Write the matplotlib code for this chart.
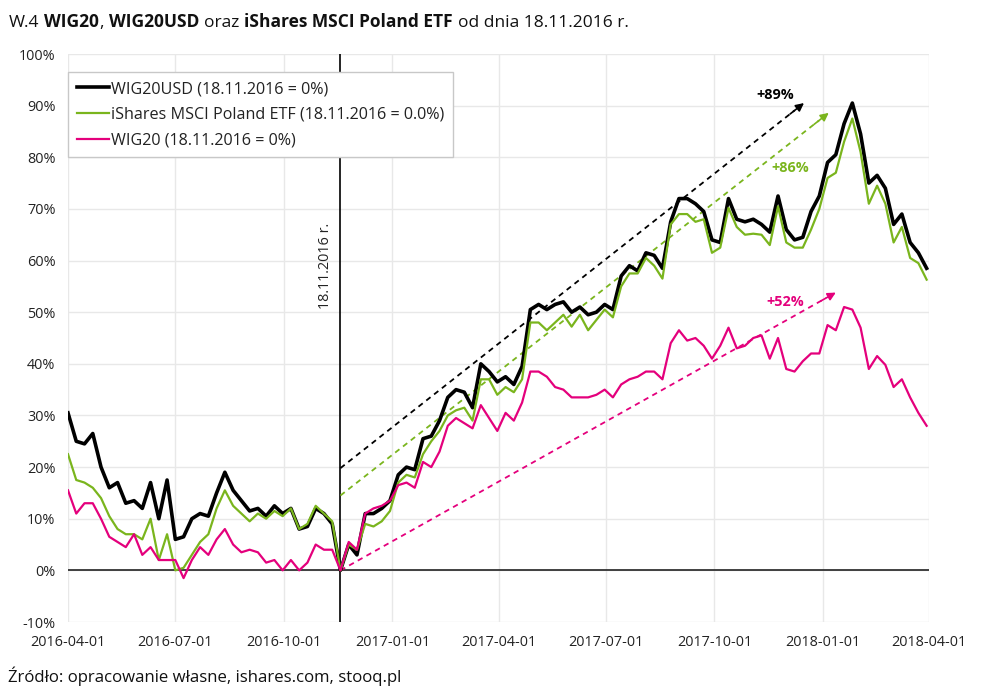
import matplotlib
matplotlib.use("Agg")
import matplotlib.pyplot as plt
import matplotlib.dates as mdates
from matplotlib.ticker import FuncFormatter, MultipleLocator
import pandas as pd

plt.rcParams["font.family"] = ["Open Sans", "DejaVu Sans"]

START = "2016-04-01"
BASE_DATE = "2016-11-18"

# weekly (Friday) readings, % change vs 18.11.2016
wig20usd = [
    30.5, 25, 24.5, 26.5, 20, 16, 17, 13, 13.5, 12, 17, 10, 17.5, 6, 6.5, 10, 11,
    10.5, 15, 19, 15.5, 13.5, 11.5, 12, 10.5, 12.5, 11, 12, 8, 8.5, 12, 11, 9,
    0, 5, 3, 11, 11, 12, 13.5, 18.5, 20, 19.5, 25.5, 26, 29, 33.5, 35, 34.5, 31.5,
    40, 38.5, 36.5, 37.5, 36, 39.5, 50.5, 51.5, 50.5, 51.5, 52, 50, 51, 49.5, 50,
    51.5, 50.5, 57, 59, 58, 61.5, 61, 58.5, 67.5, 72, 72, 71, 69.5, 64, 63.5, 72,
    68, 67.5, 68, 67, 65.5, 72.5, 66, 64, 64.5, 69.5, 72.5, 79, 80.5, 86.5, 90.5,
    84.5, 75, 76.5, 74, 67, 69, 63.5, 61.5, 58.5,
]
ishares = [
    22.5, 17.5, 17, 16, 14, 10.5, 8, 7, 7, 6, 10, 2, 7, 0, 0.5, 3, 5.5,
    7, 12, 15.5, 12.5, 11, 9.5, 11, 10, 11.5, 10.5, 12, 8, 9, 12.5, 11, 9.5,
    0, 5, 4, 9, 8.5, 9.5, 11.5, 17, 18.5, 18, 22.5, 25, 27, 30, 31, 31.5, 29,
    37, 37, 34, 35.5, 34.5, 37, 48, 48, 46.5, 48, 49.5, 47.2, 49.5, 46.5, 48.5,
    50.5, 49, 55, 57.5, 57.5, 60.5, 59, 56.5, 67, 69, 69, 67.5, 68, 61.5, 62.5, 70.2,
    66.5, 65, 65.2, 65, 63, 70.5, 63.5, 62.5, 62.5, 66, 70, 76, 77, 83, 87.5,
    81, 71, 74.5, 71, 63.5, 66.5, 60.5, 59.5, 56.3,
]
wig20 = [
    15.5, 11, 13, 13, 10, 6.5, 5.5, 4.5, 7, 3, 4.5, 2, 2, 2, -1.5, 2, 4.5,
    3, 6, 8, 5, 3.5, 4, 3.5, 1.5, 2, 0, 2, 0, 1.5, 5, 4, 4,
    0, 5.5, 4, 11, 12, 12.5, 13.5, 16.5, 17, 16, 21, 20, 23, 28, 29.5, 28.5, 27.5,
    32, 29.5, 27, 30.5, 29, 32.5, 38.5, 38.5, 37.5, 35.5, 35, 33.5, 33.5, 33.5, 34,
    35, 33.5, 36, 37, 37.5, 38.5, 38.5, 37, 44, 46.5, 44.5, 45, 43.5, 41, 43.5, 47,
    43, 43.5, 45, 45.5, 41, 45, 39, 38.5, 40.5, 42, 42, 47.5, 46.5, 51, 50.5,
    47, 39, 41.5, 39.8, 35.5, 37, 33.5, 30.5, 28,
]

series_values = [wig20usd, ishares, wig20]
series_labels = [
    "WIG20USD (18.11.2016 = 0%)",
    "iShares MSCI Poland ETF (18.11.2016 = 0.0%)",
    "WIG20 (18.11.2016 = 0%)",
]
series_colors = ["#000000", "#7ab51d", "#e4007c"]
series_widths = [2.6, 1.6, 1.6]

# dashed trend arrows drawn from 18.11.2016 to the peak
trend_labels = ["+89%", "+86%", "+52%"]
trend_start = [19.8, 14.5, 0.0]
trend_end_dates = ["2017-12-16", "2018-01-06", "2018-01-12"]
trend_end = [90.5, 88.6, 53.8]
trend_label_dates = ["2017-11-22", "2017-12-04", "2017-11-30"]
trend_label_values = [92.0, 78.0, 52.0]

title_parts = [
    ("W.4", "normal"), ("WIG20", "bold"), (",", "normal"), ("WIG20USD", "bold"),
    ("oraz", "normal"), ("iShares MSCI Poland ETF", "bold"),
    ("od dnia 18.11.2016 r.", "normal"),
]
title_gaps = [0, 3.5, 0, 3.5, 3.5, 3.5, 3.5]

x_ticks = pd.date_range("2016-04-01", "2018-04-01", freq="3MS")
dates = pd.date_range(START, periods=len(wig20usd), freq="7D")

fig = plt.figure(figsize=(9.85, 6.97), dpi=100)
ax = fig.add_axes([68 / 985, 1 - 622 / 697, (929 - 68) / 985, (622 - 54) / 697])

ax.set_xlim(pd.Timestamp("2016-04-01"), pd.Timestamp("2018-04-01"))
ax.set_ylim(-10, 100)
ax.yaxis.set_major_locator(MultipleLocator(10))
ax.yaxis.set_major_formatter(FuncFormatter(lambda v, _: f"{v:.0f}%"))
ax.set_xticks(x_ticks)
ax.xaxis.set_major_formatter(mdates.DateFormatter("%Y-%m-%d"))
ax.tick_params(axis="both", length=0, labelsize=10.4, colors="#222222")
ax.tick_params(axis="y", pad=9)
ax.tick_params(axis="x", pad=9)
for spine in ax.spines.values():
    spine.set_visible(False)
ax.grid(True, color="#e8e8e8", linewidth=1.0)
ax.set_axisbelow(True)

ax.axhline(0, color="#222222", linewidth=1.2, zorder=2)
base = pd.Timestamp(BASE_DATE)
ax.axvline(base, color="#000000", linewidth=1.2, zorder=2)
ax.text(base - pd.Timedelta(days=13), 59, "18.11.2016 r.", rotation=90,
        ha="center", va="center", fontsize=10.4, color="#222222")

for values, label, color, width in zip(series_values, series_labels,
                                       series_colors, series_widths):
    ax.plot(dates, values, color=color, linewidth=width, label=label, zorder=3)

x0 = mdates.date2num(base)
for label, y0, end_date, y1, lx, ly, color in zip(
        trend_labels, trend_start, trend_end_dates, trend_end,
        trend_label_dates, trend_label_values, series_colors):
    x1 = mdates.date2num(pd.Timestamp(end_date))
    ax.plot([x0, x1 - (x1 - x0) * 0.02], [y0, y1 - (y1 - y0) * 0.02],
            color=color, linewidth=1.3, linestyle=(0, (3, 2.5)), zorder=2)
    ax.annotate("", xy=(x1, y1),
                xytext=(x1 - (x1 - x0) * 0.03, y1 - (y1 - y0) * 0.03),
                arrowprops=dict(arrowstyle="-|>", color=color, lw=1.2,
                                mutation_scale=12, shrinkA=0, shrinkB=0))
    ax.text(mdates.date2num(pd.Timestamp(lx)), ly, label, color=color,
            fontsize=10.4, fontweight="bold", ha="center", va="center")

legend = ax.legend(loc="upper left", bbox_to_anchor=(0.0, 0.968), fontsize=11.6,
                   frameon=True, fancybox=False, edgecolor="#c8c8c8",
                   framealpha=1, handlelength=2.0, handletextpad=0.1,
                   borderpad=0.55, labelspacing=0.6, borderaxespad=0)
legend.get_frame().set_linewidth(1.0)
for text in legend.get_texts():
    text.set_color("#222222")

# title with bold fragments, each placed right after the previous one
prev = None
for (part, weight), gap in zip(title_parts, title_gaps):
    if prev is None:
        prev = fig.text(9 / 985, 1 - 31 / 697, part, fontsize=12.5, fontweight=weight,
                        va="bottom", ha="left", color="#111111")
    else:
        prev = ax.annotate(part, xy=(1, 0), xycoords=prev, xytext=(gap, 0),
                           textcoords="offset points", fontsize=12.5,
                           fontweight=weight, va="bottom", ha="left",
                           color="#111111", annotation_clip=False)

fig.text(8 / 985, 1 - 676 / 697, "Źródło: opracowanie własne, ishares.com, stooq.pl",
         fontsize=12.1, va="center", ha="left", color="#111111")

fig.savefig("out.png", dpi=100)
